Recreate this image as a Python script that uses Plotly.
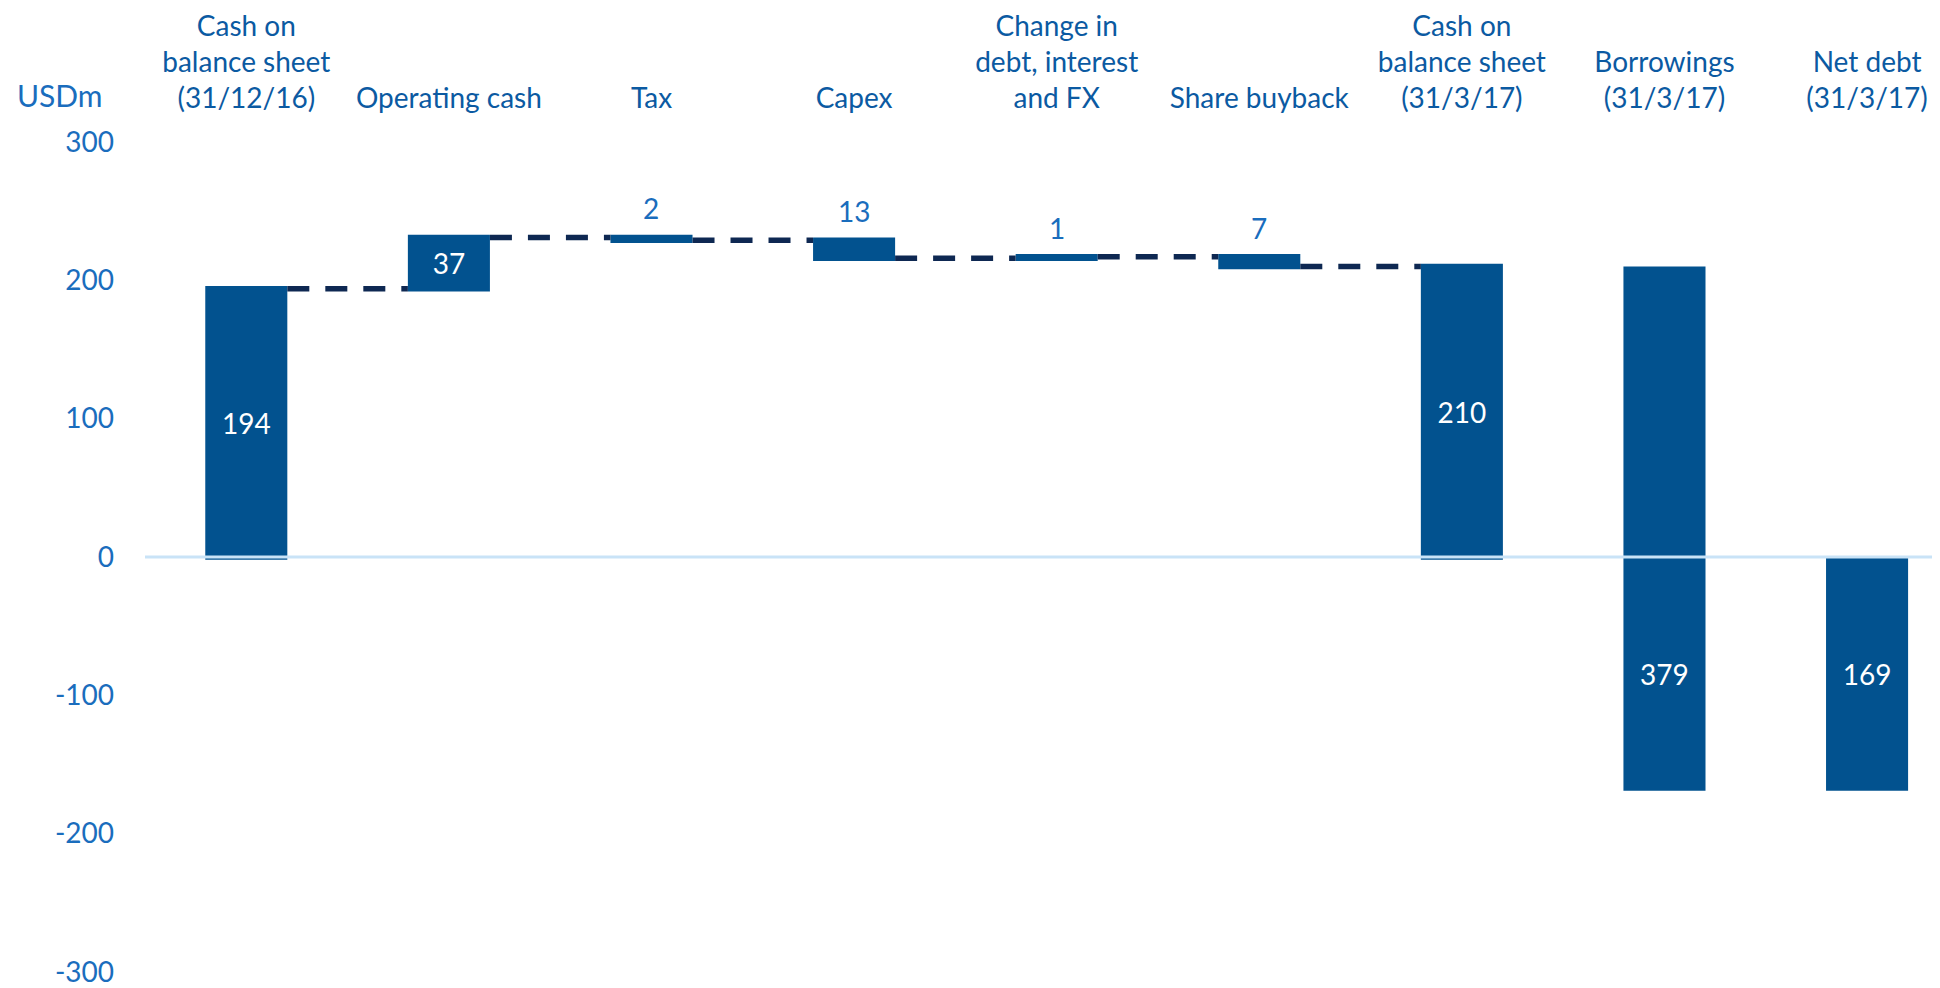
import plotly.graph_objects as go

# ---- data ----
categories = [
    "Cash on<br>balance sheet<br>(31/12/16)",
    "Operating cash",
    "Tax",
    "Capex",
    "Change in<br>debt, interest<br>and FX",
    "Share buyback",
    "Cash on<br>balance sheet<br>(31/3/17)",
    "Borrowings<br>(31/3/17)",
    "Net debt<br>(31/3/17)",
]
flow_values = [194, 37, -2, -13, 1, -7]      # opening cash + movements
cash_end = 210                               # cash on balance sheet 31/3/17
borrowings = 379                             # borrowings 31/3/17
net_debt = -169                              # net debt 31/3/17
value_labels = ["194", "37", "2", "13", "1", "7", "210", "379", "169"]
label_outside = [False, False, True, True, True, True, False]
y_ticks = [-300, -200, -100, 0, 100, 200, 300]
y_tick_labels = ["-300", "-200", "-100", "0", "100", "200", "300"]

# ---- styles ----
BAR = "#02528F"
DASH = "#0E2852"
CAT_COL = "#0B5AA2"
TICK_COL = "#1A6DBD"
ZERO_COL = "#C9E3F7"
FONT = "Lato"
BW = 0.405
PAGE_OFFSET = 8  # default body margin of the html page

wf_x = categories[:7]
wf_measure = ["absolute"] + ["relative"] * 5 + ["total"]
wf_y = flow_values + [0]
wf_text = [t if not o else "" for t, o in zip(value_labels[:7], label_outside)]

fig = go.Figure()
fig.add_trace(go.Waterfall(
    x=wf_x, y=wf_y, measure=wf_measure, width=[BW] * 7,
    text=wf_text, textposition="inside", insidetextanchor="middle",
    textfont=dict(color="white", size=28, family=FONT),
    increasing=dict(marker=dict(color=BAR, line=dict(width=0))),
    decreasing=dict(marker=dict(color=BAR, line=dict(width=0))),
    totals=dict(marker=dict(color=BAR, line=dict(width=0))),
    connector=dict(mode="between", line=dict(color=DASH, width=5.5, dash="22px,16px")),
    hoverinfo="skip", showlegend=False,
))

# borrowings split across zero, net debt below zero
fig.add_trace(go.Bar(
    x=[categories[7]], y=[cash_end], width=[BW],
    marker=dict(color=BAR, line=dict(width=0)), hoverinfo="skip", showlegend=False,
))
fig.add_trace(go.Bar(
    x=[categories[7], categories[8]], y=[cash_end - borrowings, net_debt], width=[BW, BW],
    text=[value_labels[7], value_labels[8]], textposition="inside", insidetextanchor="middle",
    textfont=dict(color="white", size=28, family=FONT),
    marker=dict(color=BAR, line=dict(width=0)), hoverinfo="skip", showlegend=False,
))

# labels above the small movement bars
level = 0
annotations = []
for i, v in enumerate(flow_values):
    start = 0 if i == 0 else level
    end = start + v
    level = end
    if label_outside[i]:
        annotations.append(dict(
            x=categories[i], y=max(start, end), xref="x", yref="y",
            text=value_labels[i], showarrow=False, yanchor="bottom", yshift=10,
            font=dict(color=TICK_COL, size=28, family=FONT),
        ))

annotations.append(dict(
    x=-0.0725, y=1.0566, xref="paper", yref="paper", text="USDm", showarrow=False,
    xanchor="left", yanchor="middle", font=dict(color=TICK_COL, size=30, family=FONT),
))

fig.update_layout(
    width=1940 - PAGE_OFFSET, height=988 - PAGE_OFFSET,
    margin=dict(l=145 - PAGE_OFFSET, r=0, t=142 - PAGE_OFFSET, b=16, autoexpand=False),
    paper_bgcolor="white", plot_bgcolor="white",
    barmode="relative",
    font=dict(family=FONT, color=CAT_COL),
    annotations=annotations,
    shapes=[dict(type="line", xref="paper", yref="y", x0=0, x1=1, y0=0, y1=0,
                 line=dict(color=ZERO_COL, width=3), layer="above")],
    xaxis=dict(
        side="top", type="category", categoryorder="array", categoryarray=categories,
        range=[-0.5, 8.36], showgrid=False, showline=False, zeroline=False, ticks="",
        automargin=False,
        tickfont=dict(size=28, color=CAT_COL, family=FONT), ticklabelstandoff=27,
    ),
    yaxis=dict(
        range=[-300, 300], tickvals=y_ticks, ticktext=y_tick_labels, showgrid=False,
        showline=False, zeroline=False, ticks="", automargin=False,
        tickfont=dict(size=28, color=TICK_COL, family=FONT), ticklabelstandoff=30,
    ),
)

fig.write_html("out.html", config={"displayModeBar": False})
